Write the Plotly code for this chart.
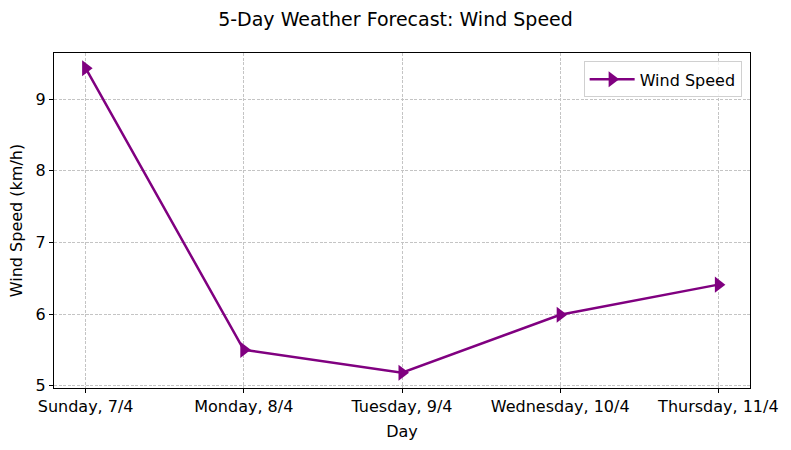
import plotly.graph_objects as go

days = ["Sunday, 7/4", "Monday, 8/4", "Tuesday, 9/4", "Wednesday, 10/4", "Thursday, 11/4"]
wind_speed = [9.43, 5.50, 5.18, 5.99, 6.41]

x_idx = list(range(len(days)))

fig = go.Figure()
fig.add_trace(go.Scatter(
    x=x_idx, y=wind_speed, mode="lines+markers", name="Wind Speed",
    line=dict(color="purple", width=2.5),
    marker=dict(symbol="triangle-right", size=14, color="purple"),
))

ymin, ymax = min(wind_speed), max(wind_speed)
pad = (ymax - ymin) * 0.05

grid = dict(showgrid=True, gridcolor="#c4c4c4", griddash="3px,1.5px", gridwidth=0.8)

fig.update_layout(
    width=791, height=450,
    margin=dict(l=54, r=39, t=53, b=62),
    paper_bgcolor="white", plot_bgcolor="white",
    font=dict(family="DejaVu Sans", size=16, color="black"),
    title=dict(text="5-Day Weather Forecast: Wind Speed", x=0.5, xanchor="center",
               y=0.958, yanchor="middle", font=dict(size=19)),
    showlegend=True,
    legend=dict(x=0.988, y=0.975, xanchor="right", yanchor="top",
                bordercolor="#d0d0d0", borderwidth=1, bgcolor="rgba(255,255,255,0.8)",
                itemwidth=45, font=dict(size=16)),
    xaxis=dict(
        title=dict(text="Day", font=dict(size=16), standoff=10),
        tickmode="array", tickvals=x_idx, ticktext=days,
        range=[-0.2, len(days) - 1 + 0.2],
        showline=True, linecolor="black", linewidth=1.2, mirror=True,
        ticks="outside", ticklen=4, tickcolor="black", zeroline=False, **grid,
    ),
    yaxis=dict(
        title=dict(text="Wind Speed (km/h)", font=dict(size=16), standoff=8),
        range=[ymin - pad, ymax + pad], dtick=1,
        showline=True, linecolor="black", linewidth=1.2, mirror=True,
        ticks="outside", ticklen=4, tickcolor="black", zeroline=False, **grid,
    ),
)

fig.write_html("out.html", config={"displayModeBar": False})

with open("out.html", "r", encoding="utf-8") as f:
    html = f.read()
html = html.replace("<body>", '<body style="margin:0;padding:0;">', 1)
with open("out.html", "w", encoding="utf-8") as f:
    f.write(html)
